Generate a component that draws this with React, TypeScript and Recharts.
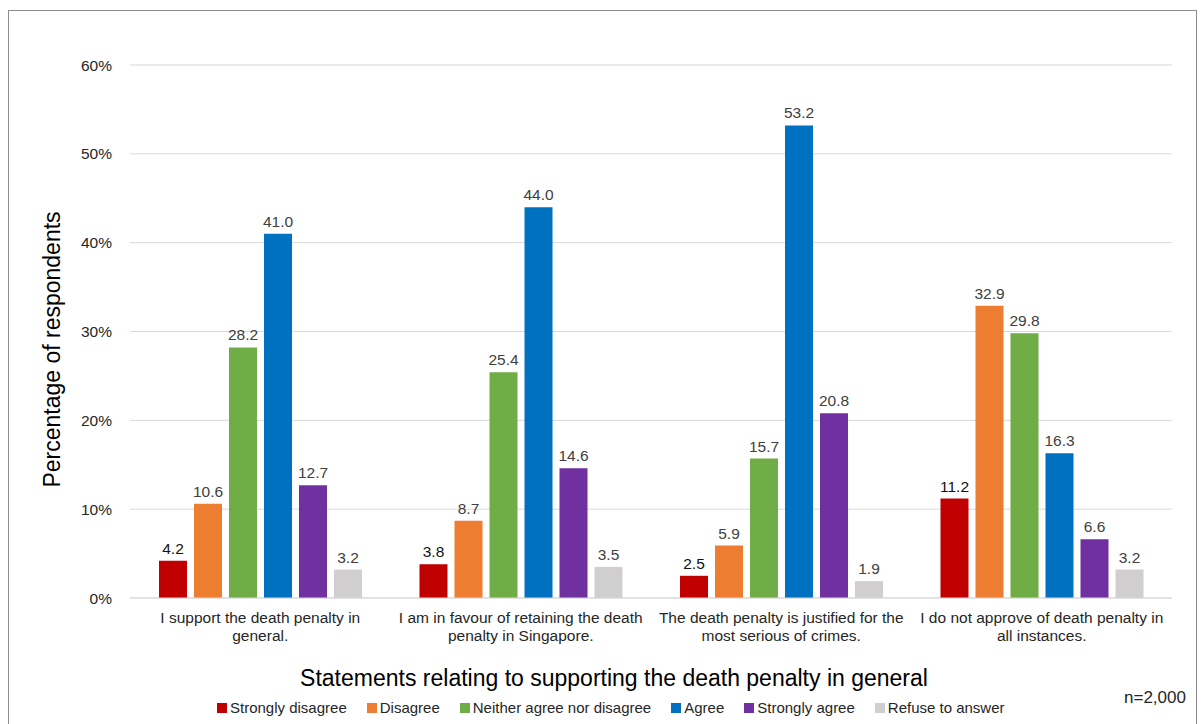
import {
  BarChart,
  Bar,
  XAxis,
  YAxis,
  CartesianGrid,
  Legend,
  LabelList,
  Label,
} from "recharts";

const categories = [
  "I support the death penalty in general.",
  "I am in favour of retaining the death penalty in Singapore.",
  "The death penalty is justified for the most serious of crimes.",
  "I do not approve of death penalty in all instances.",
];
const tickLines = [
  ["I support the death penalty in", "general."],
  ["I am in favour of retaining the death", "penalty in Singapore."],
  ["The death penalty is justified for the", "most serious of crimes."],
  ["I do not approve of death penalty in", "all instances."],
];

const stronglyDisagree = [4.2, 3.8, 2.5, 11.2];
const disagree = [10.6, 8.7, 5.9, 32.9];
const neither = [28.2, 25.4, 15.7, 29.8];
const agree = [41.0, 44.0, 53.2, 16.3];
const stronglyAgree = [12.7, 14.6, 20.8, 6.6];
const refuse = [3.2, 3.5, 1.9, 3.2];

const yTicks = [0, 10, 20, 30, 40, 50, 60];

const series = [
  { key: "sd", name: "Strongly disagree", values: stronglyDisagree, color: "#C00000", labelColor: "#111" },
  { key: "d", name: "Disagree", values: disagree, color: "#ED7D31", labelColor: "#404040" },
  { key: "n", name: "Neither agree nor disagree", values: neither, color: "#70AD47", labelColor: "#404040" },
  { key: "a", name: "Agree", values: agree, color: "#0070C0", labelColor: "#404040" },
  { key: "sa", name: "Strongly agree", values: stronglyAgree, color: "#7030A0", labelColor: "#404040" },
  { key: "r", name: "Refuse to answer", values: refuse, color: "#D0CECE", labelColor: "#404040" },
];

const data = categories.map((c, i) => {
  const row: Record<string, string | number> = { cat: c, idx: i };
  series.forEach((s) => (row[s.key] = s.values[i]));
  return row;
});

const FONT = '"Liberation Sans", Arial, sans-serif';
const SMALL = 15.5;

function CatTick({ x, y, index }: any) {
  const lines = tickLines[index] || [];
  return (
    <text x={x} y={y} textAnchor="middle" fontSize={SMALL} fill="#262626" fontFamily={FONT}>
      {lines.map((l, i) => (
        <tspan key={i} x={x} dy={i === 0 ? 17 : 18}>
          {l}
        </tspan>
      ))}
    </text>
  );
}

function LegendContent() {
  return (
    <div style={{ display: "flex", fontFamily: FONT, fontSize: 15, color: "#262626", whiteSpace: "nowrap" }}>
      {series.map((s) => (
        <div key={s.key} style={{ display: "flex", alignItems: "center", marginRight: 20 }}>
          <span style={{ width: 10, height: 10, background: s.color, marginRight: 3, display: "inline-block" }} />
          {s.name}
        </div>
      ))}
    </div>
  );
}

export default function App() {
  return (
    <div style={{ position: "absolute", left: 0, top: 0, width: 1203, height: 724, background: "#fff" }}>
      <div
        style={{
          position: "absolute",
          left: 8,
          top: 10,
          width: 1187,
          height: 730,
          border: "1px solid #8c8c8c",
        }}
      />
      <div style={{ position: "absolute", left: 0, top: 0 }}>
        <BarChart
          width={1203}
          height={724}
          data={data}
          margin={{ top: 65, right: 31, left: 0, bottom: 0 }}
          barSize={28}
          barGap={7}
          style={{ fontFamily: FONT }}
        >
          <CartesianGrid vertical={false} stroke="#d9d9d9" />
          <XAxis
            dataKey="cat"
            height={98}
            interval={0}
            tickLine={false}
            axisLine={{ stroke: "#d9d9d9" }}
            tick={<CatTick />}
          >
            <Label
              value="Statements relating to supporting the death penalty in general"
              position="insideBottom"
              offset={10}
              dx={-37}
              style={{ fontSize: 23, fill: "#000", fontFamily: FONT }}
            />
          </XAxis>
          <YAxis
            width={130}
            domain={[0, 60]}
            ticks={yTicks}
            tickFormatter={(v) => `${v}%`}
            tickLine={false}
            axisLine={false}
            tickMargin={12}
            tick={{ fontSize: SMALL, fill: "#262626", fontFamily: FONT }}
          >
            <Label
              value="Percentage of respondents"
              angle={-90}
              position="insideLeft"
              offset={52}
              dy={18}
              style={{ fontSize: 23, fill: "#000", fontFamily: FONT, textAnchor: "middle" }}
            />
          </YAxis>
          <Legend
            verticalAlign="bottom"
            height={28}
            content={<LegendContent />}
            wrapperStyle={{ left: 217, width: 860, bottom: -3 }}
          />
          {series.map((s) => (
            <Bar key={s.key} dataKey={s.key} name={s.name} fill={s.color} isAnimationActive={false}>
              <LabelList
                dataKey={s.key}
                position="top"
                offset={7}
                formatter={(v: any) => Number(v).toFixed(1)}
                style={{ fontSize: SMALL, fill: s.labelColor, fontFamily: FONT }}
              />
            </Bar>
          ))}
        </BarChart>
      </div>
      <div
        style={{
          position: "absolute",
          left: 1124,
          top: 688,
          fontFamily: FONT,
          fontSize: 17,
          color: "#262626",
        }}
      >
        n=2,000
      </div>
    </div>
  );
}
